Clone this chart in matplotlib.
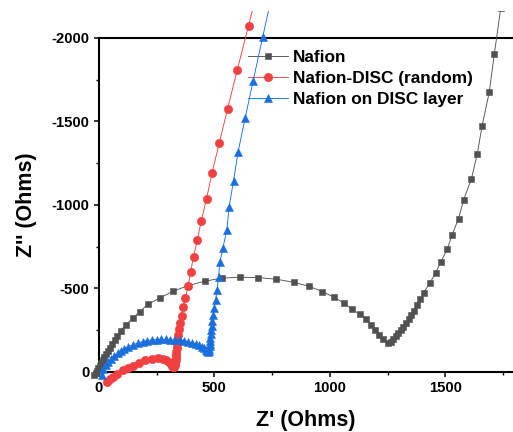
import matplotlib
matplotlib.use("Agg")
import matplotlib.pyplot as plt
from matplotlib.ticker import MultipleLocator

plt.rcParams['font.family'] = ['Liberation Sans', 'DejaVu Sans']
plt.rcParams['font.weight'] = 'bold'
plt.rcParams['axes.unicode_minus'] = False

# Impedance spectra: Z' (real) and Z'' (imaginary), in Ohms
nafion_re = [-20, -14, -8, -2, 4, 10, 17, 24, 32, 40, 49, 58, 68, 79, 94, 117,
             146, 177, 211, 264, 320, 384, 458, 531, 610, 690, 769, 843, 909,
             968, 1019, 1062, 1097, 1129, 1156, 1176, 1195, 1213, 1231, 1252,
             1263, 1274, 1285, 1296, 1307, 1318, 1329, 1341, 1352, 1363, 1376,
             1391, 1406, 1432, 1458, 1480, 1508, 1529, 1557, 1579, 1613, 1638,
             1659, 1690, 1712, 1740]
nafion_im = [20, 6, -8, -23, -38, -54, -71, -88, -106, -124, -143, -165, -190,
             -216, -247, -283, -321, -361, -404, -443, -482, -516, -543, -562,
             -567, -565, -555, -537, -513, -481, -447, -411, -375, -345, -316,
             -281, -251, -222, -196, -172, -182, -196, -214, -232, -252, -272,
             -294, -318, -341, -365, -401, -439, -475, -531, -593, -657, -735,
             -820, -918, -1030, -1157, -1304, -1473, -1675, -1904, -2180]

random_re = [35, 48, 61, 80, 104, 125, 147, 174, 201, 228, 255, 276, 292, 303,
             311, 317, 322, 326, 328, 330, 331, 332, 333, 334, 336, 337, 338,
             339, 341, 345, 351, 358, 365, 375, 387, 397, 410, 426, 443, 466,
             490, 521, 557, 599, 648, 703]
random_im = [60, 45, 30, 10, -9, -25, -38, -55, -70, -78, -82, -80, -72, -60,
             -47, -36, -28, -30, -39, -48, -60, -72, -87, -102, -120, -141,
             -165, -192, -222, -256, -292, -337, -387, -445, -515, -599, -689,
             -789, -902, -1036, -1192, -1369, -1575, -1807, -2074, -2371]

layer_re = [15, 20, 30, 41, 52, 66, 81, 95, 108, 128, 149, 170, 190, 210, 230,
            250, 270, 290, 310, 330, 350, 368, 386, 403, 419, 433, 445, 455,
            463, 469, 474, 477, 478, 479, 480, 481, 483, 485, 487, 489, 491,
            495, 499, 505, 512, 518, 524, 537, 554, 564, 583, 603, 633, 668,
            709, 755]
layer_im = [18, -15, -42, -60, -75, -95, -111, -126, -138, -152, -163, -174,
            -182, -188, -192, -194, -195, -195, -194, -192, -189, -185, -180,
            -174, -167, -159, -150, -141, -132, -124, -119, -126, -138, -153,
            -168, -186, -204, -225, -249, -275, -305, -341, -381, -431, -491,
            -571, -656, -743, -850, -990, -1144, -1319, -1519, -1743, -2004,
            -2290]

series = [
    ("Nafion", nafion_re, nafion_im, "#515151", "s", 4.6),
    ("Nafion-DISC (random)", random_re, random_im, "#F14040", "o", 6.0),
    ("Nafion on DISC layer", layer_re, layer_im, "#1A6FDF", "^", 6.3),
]

fig = plt.figure(figsize=(5.13, 4.32), dpi=100)
ax = fig.add_axes([85 / 513, 40 / 432, 428.5 / 513, 381 / 432])

for name, re, im, color, marker, ms in series:
    ax.plot(re, im, color=color, lw=0.65, marker=marker, ms=ms,
            mec=color, mfc=color, mew=0.4, label=name, zorder=3)

ax.set_xlim(-60, 1795)
ax.set_ylim(120, -2161)

# Axes drawn through the origin, closed by a line at Z'' = -2000
ax.spines['left'].set_position(('data', 0))
ax.spines['left'].set_bounds(-2000, 0)
ax.spines['bottom'].set_position(('data', 0))
ax.spines['bottom'].set_bounds(0, 1795)
ax.spines['top'].set_position(('data', -2000))
ax.spines['top'].set_bounds(0, 1795)
ax.spines['right'].set_visible(False)
for s in ('left', 'bottom', 'top'):
    ax.spines[s].set_linewidth(1.5)

ax.xaxis.set_ticks_position('bottom')
ax.yaxis.set_ticks_position('left')
ax.xaxis.set_major_locator(MultipleLocator(500))
ax.xaxis.set_minor_locator(MultipleLocator(250))
ax.yaxis.set_major_locator(MultipleLocator(500))
ax.yaxis.set_minor_locator(MultipleLocator(250))
ax.tick_params(which='major', direction='out', length=3.6, width=1.1,
               labelsize=10.7, pad=3.2)
ax.tick_params(which='minor', direction='out', length=2.2, width=1.0)
for lab in ax.get_xticklabels() + ax.get_yticklabels():
    lab.set_fontweight('bold')

ax.set_xlabel("Z' (Ohms)", fontsize=15.5, fontweight='bold')
ax.set_ylabel("Z'' (Ohms)", fontsize=15.5, fontweight='bold')
ax.xaxis.set_label_coords(0.516, -0.047)
ax.yaxis.set_label_coords(-0.113, 0.491)

leg = ax.legend(loc='upper left', bbox_to_anchor=(248 / 513, 1 - 50 / 432),
                bbox_transform=fig.transFigure, frameon=False,
                prop={'size': 12.4, 'weight': 'bold'}, handlelength=2.33,
                handletextpad=0.26, labelspacing=0.33, borderpad=0,
                borderaxespad=0)
leg.set_zorder(1)

fig.savefig("out.png", dpi=100)
